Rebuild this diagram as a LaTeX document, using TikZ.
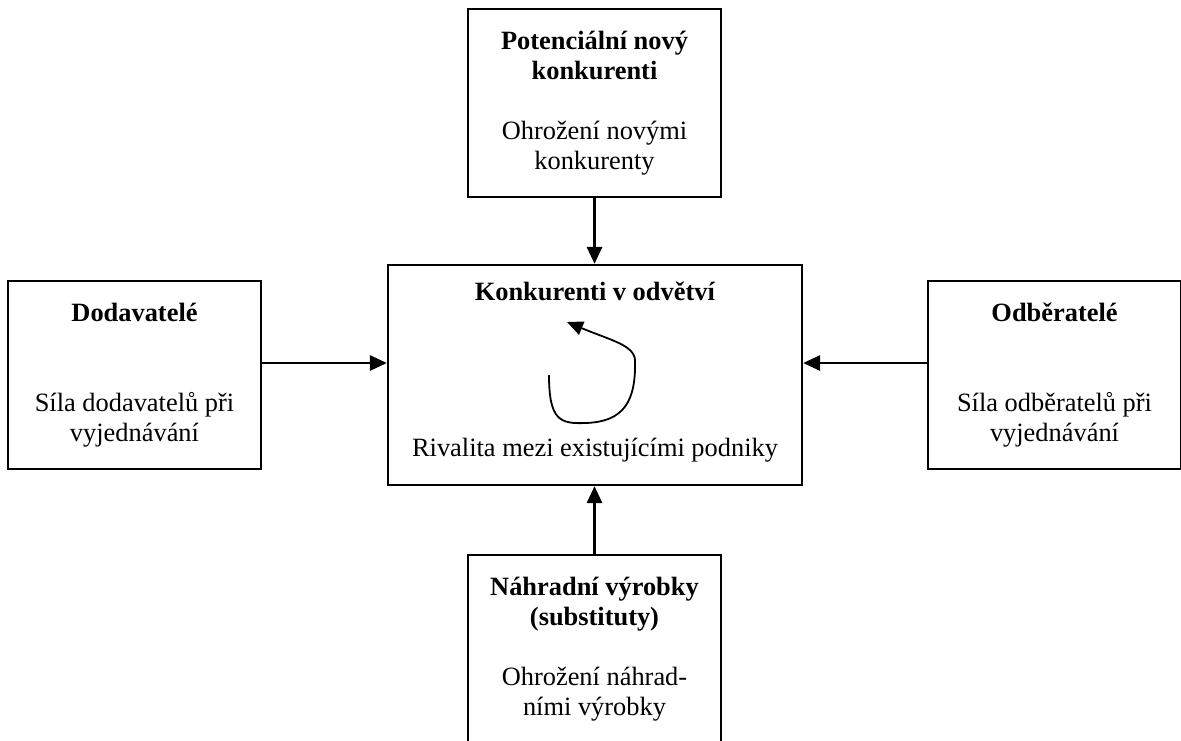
\documentclass[tikz,border=0pt]{standalone}
\usepackage{fontspec}
\setmainfont{Liberation Serif}
\usetikzlibrary{arrows.meta}
\begin{document}
\begin{tikzpicture}[x=0.5pt, y=-0.5pt, font=\fontsize{13.2}{15}\selectfont,
		force/.style={draw, line width=1.1pt, minimum width=126.5pt, minimum height=94pt, align=center, inner sep=0pt},
		arr/.style={line width=1.4pt, -{Triangle[length=8.5pt, width=7.5pt]}}]
	\useasboundingbox (0,0) rectangle (1181,740);
	% pet sil
	\node[force, minimum width=207pt, minimum height=110pt] (rivalita) at (595,375) {};
	\node[anchor=base] (rivtitle) at (595,300) {\textbf{Konkurenti v odvětví}};
	\node[anchor=base] (rivtext) at (595,456) {Rivalita mezi existujícími podniky};
	\node[force] (novi) at (594.5,103) {\textbf{Potenciální nový}\\\textbf{konkurenti}\\[15pt]Ohrožení novými\\konkurenty};
	\node[force] (dodavatele) at (134.5,375) {\textbf{Dodavatelé}\\[30pt]Síla dodavatelů při\\vyjednávání};
	\node[force] (odberatele) at (1054.5,375) {\textbf{Odběratelé}\\[30pt]Síla odběratelů při\\vyjednávání};
	\node[force] (substituty) at (594.5,649) {\textbf{Náhradní výrobky}\\\textbf{(substituty)}\\[15pt]Ohrožení náhrad-\\ními výrobky};
	\coordinate (level) at (0,363);
	% sipky
	\draw[arr] (novi.south) -- (rivalita.north -| novi.south);
	\draw[arr] (substituty.north) -- (rivalita.south -| substituty.north);
	\draw[arr] (dodavatele.east |- level) -- (rivalita.west |- level);
	\draw[arr] (odberatele.west |- level) -- (rivalita.east |- level);
	% smycka
	\coordinate (loopstart) at (549,375);
	\coordinate (loopend) at (567,322);
	\draw[line width=0.9pt, -{Triangle[length=8pt, width=7pt]}] (loopstart) .. controls (549,420) and (560,424) .. (585,423)
		.. controls (625,422) and (636,400) .. (635,360) .. controls (634,345) and (610,340) .. (loopend);
\end{tikzpicture}
\end{document}
